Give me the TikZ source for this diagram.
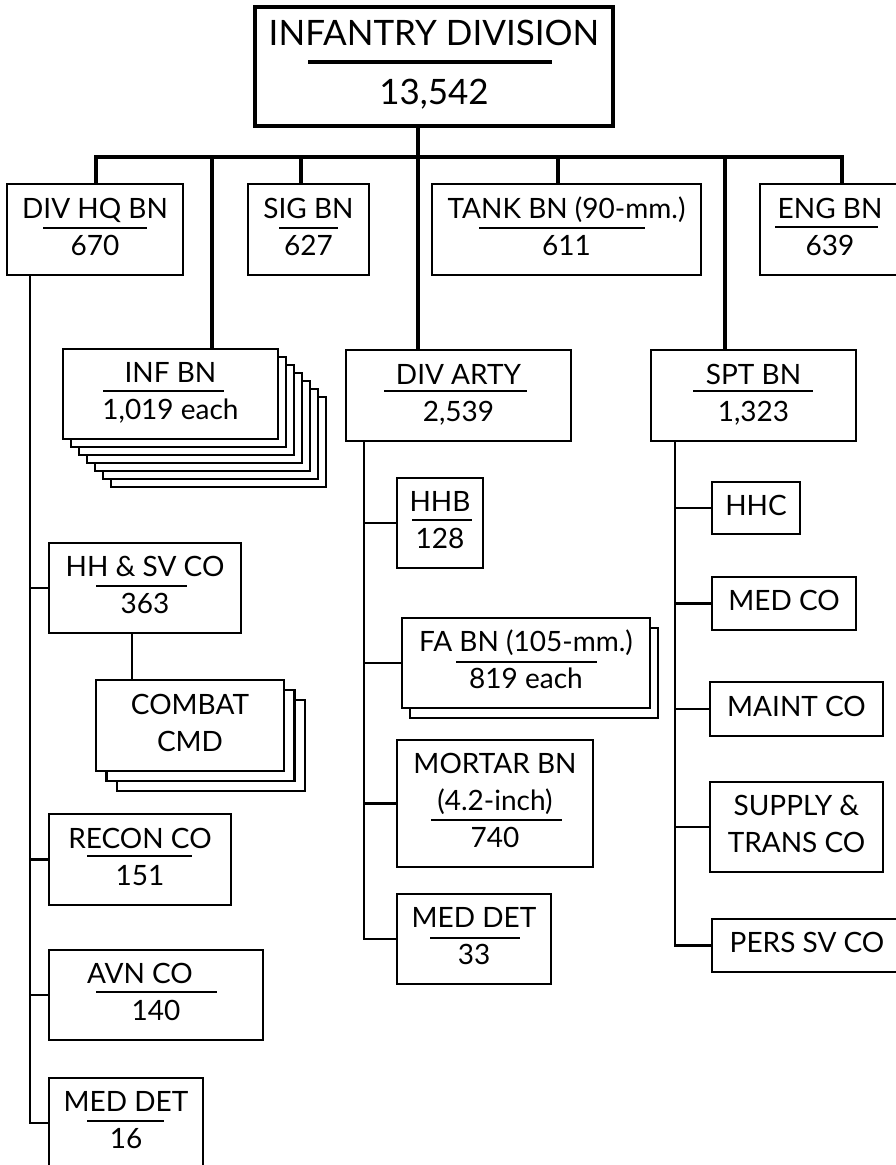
\documentclass[tikz,border=0pt]{standalone}
\usepackage{fontspec}
\setmainfont{Lato}
\usetikzlibrary{backgrounds}

\tikzset{
  unitbox/.style={draw, line width=2.7pt, fill=white, inner sep=1pt, outer sep=0pt,
    align=center, text depth=6pt},
  oneline/.style={text height=20pt},
  twoline/.style={text height=57pt},
  threeline/.style={text height=94pt},
  link/.style={line width=2.7pt},
  trunk/.style={line width=4.5pt},
  bar/.style={line width=2.7pt},
}

\begin{document}
\begin{tikzpicture}[x=1pt, y=-1pt, font=\fontsize{28}{37}\selectfont]
  \useasboundingbox (0,0) rectangle (895,1165);

  % La division
  \node[unitbox, line width=4.5pt, minimum width=358pt, minimum height=119pt,
    text height=84pt, text depth=9pt, font=\fontsize{35}{59}\selectfont] (div) at (434,66.5) {INFANTRY DIVISION\\13,542};
  \draw[trunk] (308,62) -- (552,62);

  % Premiere rangee
  \node[unitbox, twoline, minimum width=176pt, minimum height=91pt] (divhq) at (95,229.5) {DIV HQ BN\\670};
  \node[unitbox, twoline, minimum width=121pt, minimum height=91pt] (sig) at (308.5,229.5) {SIG BN\\627};
  \node[unitbox, twoline, minimum width=269pt, minimum height=91pt] (tank) at (566.5,229.5) {TANK BN (90-mm.)\\611};
  \node[unitbox, twoline, minimum width=140pt, minimum height=91pt] (eng) at (830,229.5) {ENG BN\\639};

  % Deuxieme rangee
  \node[unitbox, twoline, minimum width=215pt, minimum height=90pt] (infbn) at (170.5,394) {INF BN\\1,019 each};
  \node[unitbox, twoline, minimum width=225pt, minimum height=91pt] (divarty) at (458.5,395.5) {DIV ARTY\\2,539};
  \node[unitbox, twoline, minimum width=205pt, minimum height=91pt] (spt) at (753.5,395.5) {SPT BN\\1,323};

  % Sous DIV HQ BN
  \node[unitbox, twoline, minimum width=192pt, minimum height=90pt] (hhsv) at (145,588) {HH \& SV CO\\363};
  \node[unitbox, twoline, minimum width=188pt, minimum height=91pt] (combat) at (190,725.5) {COMBAT\\CMD};
  \node[unitbox, twoline, minimum width=182pt, minimum height=91pt] (recon) at (140,859.5) {RECON CO\\151};
  \node[unitbox, twoline, minimum width=214pt, minimum height=90pt] (avn) at (156,995) {AVN CO\hspace*{32pt}\\140};
  \node[unitbox, twoline, minimum width=154pt, minimum height=90pt] (meddetA) at (126,1123) {MED DET\\16};

  % Sous DIV ARTY
  \node[unitbox, twoline, minimum width=86pt, minimum height=90pt] (hhb) at (440,523) {HHB\\128};
  \node[unitbox, twoline, minimum width=248pt, minimum height=90pt] (fabn) at (526,663) {FA BN (105-mm.)\\819 each};
  \node[unitbox, threeline, minimum width=196pt, minimum height=127pt] (mortar) at (495,803.5) {MORTAR BN\\(4.2-inch)\\740};
  \node[unitbox, twoline, minimum width=154pt, minimum height=90pt] (meddetB) at (474,939) {MED DET\\33};

  % Sous SPT BN
  \node[unitbox, oneline, minimum width=88pt, minimum height=52pt] (hhc) at (756,508) {HHC};
  \node[unitbox, oneline, minimum width=144pt, minimum height=53pt] (medco) at (784,603.5) {MED CO};
  \node[unitbox, oneline, minimum width=173pt, minimum height=54pt] (maint) at (796.5,709) {MAINT CO};
  \node[unitbox, twoline, minimum width=173pt, minimum height=90pt] (supply) at (796.5,827) {SUPPLY \&\\TRANS CO};
  \node[unitbox, oneline, minimum width=190pt, minimum height=53pt] (pers) at (807,945.5) {PERS SV CO};

  % Copies empilees derriere
  \begin{pgfonlayer}{background}
    \foreach \i in {6,5,...,1}
      \draw[link, fill=white] ([shift={(8*\i,8*\i)}]infbn.north west) rectangle ([shift={(8*\i,8*\i)}]infbn.south east);
    \foreach \i in {2,1}
      \draw[link, fill=white] ([shift={(10.5*\i,10*\i)}]combat.north west) rectangle ([shift={(10.5*\i,10*\i)}]combat.south east);
    \draw[link, fill=white] ([shift={(8,10)}]fabn.north west) rectangle ([shift={(8,10)}]fabn.south east);
  \end{pgfonlayer}

  % Barres sous les noms
  \draw[bar] (43,228) -- (147,228);
  \draw[bar] (279,228) -- (338,228);
  \draw[bar] (479,228) -- (645,228);
  \draw[bar] (775,227) -- (878,227);
  \draw[bar] (103,391) -- (224,391);
  \draw[bar] (384,391) -- (527,391);
  \draw[bar] (693,391) -- (813,391);
  \draw[bar] (412,520) -- (472,520);
  \draw[bar] (96,586) -- (187,586);
  \draw[bar] (456,662) -- (597,662);
  \draw[bar] (431,820) -- (562,820);
  \draw[bar] (87,856) -- (192,856);
  \draw[bar] (430,938) -- (520,938);
  \draw[bar] (96,992) -- (217,992);
  \draw[bar] (87,1121) -- (164,1121);

  % Liaisons epaisses
  \coordinate (bus) at (0,157);
  \coordinate (busL) at ([xshift=89]divhq.north west);
  \coordinate (busR) at ([xshift=82]eng.north west);
  \draw[trunk] (busL) |- (busR |- bus) -- (busR);
  \foreach \u/\dx in {infbn/149, sig/53, tank/126, spt/74} {
    \coordinate (drop) at ([xshift=\dx]\u.north west);
    \draw[trunk] (drop) -- (drop |- bus);
  }
  \coordinate (mid) at ([xshift=-16]div.south);
  \draw[trunk] (mid) -- (mid |- divarty.north);

  % Liaisons fines
  \coordinate (hqspine) at ([xshift=23]divhq.south west);
  \draw[link] (hqspine) |- (meddetA.west);
  \foreach \u in {hhsv, recon, avn}
    \draw[link] (hqspine |- \u.west) -- (\u.west);
  \coordinate (cmdtop) at ([xshift=36]combat.north west);
  \draw[link] (cmdtop) -- (cmdtop |- hhsv.south);

  \coordinate (artyspine) at ([xshift=18]divarty.south west);
  \draw[link] (artyspine) |- (meddetB.west);
  \foreach \u in {hhb, fabn, mortar}
    \draw[link] (artyspine |- \u.west) -- (\u.west);

  \coordinate (sptspine) at ([xshift=24]spt.south west);
  \draw[link] (sptspine) |- (pers.west);
  \foreach \u in {hhc, medco, maint, supply}
    \draw[link] (sptspine |- \u.west) -- (\u.west);
\end{tikzpicture}
\end{document}
